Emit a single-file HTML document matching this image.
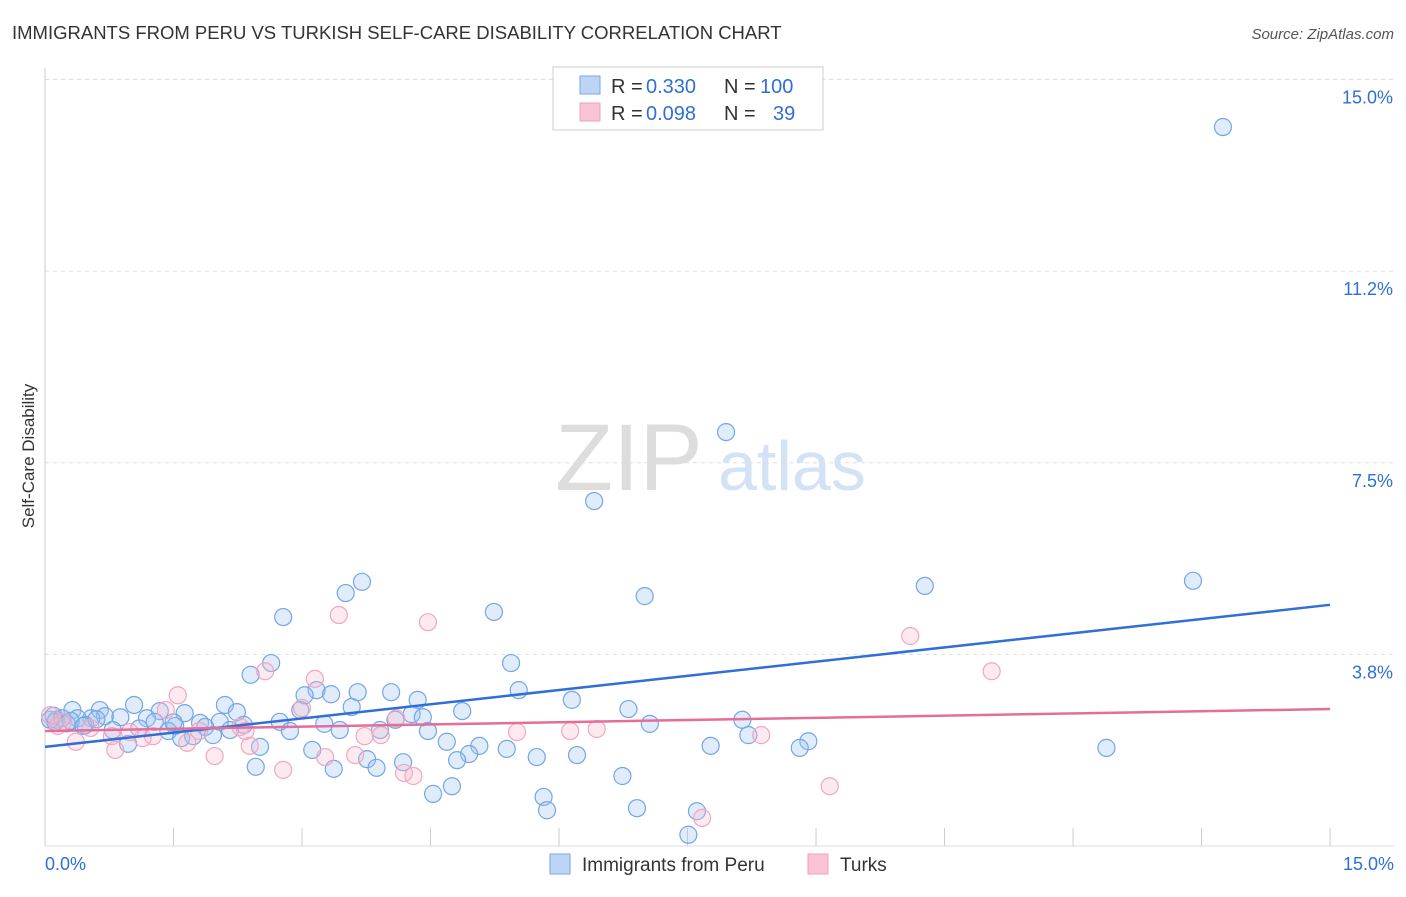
<!DOCTYPE html>
<html><head><meta charset="utf-8"><style>
body{margin:0;background:#fff;font-family:"Liberation Sans",sans-serif;}
svg text{font-family:"Liberation Sans",sans-serif;}
</style></head><body>
<svg id="chart" width="1406" height="892">
<text x="12" y="39" font-size="18.5" fill="#333">IMMIGRANTS FROM PERU VS TURKISH SELF-CARE DISABILITY CORRELATION CHART</text>
<text x="1394" y="39" font-size="15" fill="#555" font-style="italic" text-anchor="end">Source: ZipAtlas.com</text>
<text x="34" y="456" font-size="17" fill="#333" text-anchor="middle" transform="rotate(-90 34 456)">Self-Care Disability</text>
<text x="555" y="490" font-size="95" fill="#ddd" font-family="Liberation Serif">ZIP</text>
<text x="718" y="490" font-size="70" fill="#d4e2f6">atlas</text>
<g id="grid"></g><g id="pts"></g><g id="lines"></g>
<g>
<rect x="553" y="67" width="270" height="63" fill="#fff" stroke="#ccc"/>
<rect x="580" y="76" width="20" height="18" fill="#bcd4f6" stroke="#7ba6e6"/>
<rect x="580" y="103" width="20" height="18" fill="#f9c5d5" stroke="#f0a0ba"/>
<text x="611" y="93" font-size="20" fill="#333">R =</text>
<text x="646" y="93" font-size="20" fill="#2f6fd6">0.330</text>
<text x="724" y="93" font-size="20" fill="#333">N =</text>
<text x="760" y="93" font-size="20" fill="#2f6fd6">100</text>
<text x="611" y="120" font-size="20" fill="#333">R =</text>
<text x="646" y="120" font-size="20" fill="#2f6fd6">0.098</text>
<text x="724" y="120" font-size="20" fill="#333">N =</text>
<text x="773" y="120" font-size="20" fill="#2f6fd6">39</text>
</g>
<g>
<rect x="550" y="854" width="20" height="20" fill="#bcd4f6" stroke="#7ba6e6"/>
<text x="582" y="871" font-size="19" fill="#333">Immigrants from Peru</text>
<rect x="808" y="854" width="20" height="20" fill="#f9c5d5" stroke="#f0a0ba"/>
<text x="840" y="871" font-size="19" fill="#333">Turks</text>
</g>
</svg>
<script>
const yTicks=[15.0,11.25,7.5,3.75];
const yTickLabels=["15.0%","11.2%","7.5%","3.8%"];
const xTicks=[0,1.5,3,4.5,6,7.5,9,10.5,12,13.5,15];
const blueX=[13.75,7.95,6.41,13.40,10.27,7.00,3.70,3.51,5.24,2.78,2.64,5.44,2.40,5.53,3.17,3.03,3.34,3.65,4.04,4.35,6.15,1.04,2.10,3.58,2.98,1.63,2.24,4.87,6.81,0.32,0.64,1.34,0.70,0.88,1.19,4.28,4.41,0.54,0.38,0.13,0.06,1.28,2.04,2.74,4.09,8.14,1.81,2.32,3.26,7.06,0.47,1.52,1.87,0.79,1.44,2.16,2.86,3.44,3.91,4.47,8.21,1.96,1.59,1.73,8.91,4.69,7.77,8.81,12.39,0.97,2.51,3.12,5.07,5.39,4.95,6.21,5.74,3.76,4.81,4.18,2.46,3.37,3.87,6.74,4.75,4.53,5.82,5.86,6.91,7.61,7.51,0.12,0.2,0.25,0.1,0.3,0.45,0.6,1.1,1.5];
const blueY=[14.07,8.10,6.75,5.19,5.09,4.89,5.17,4.95,4.58,4.48,3.58,3.58,3.35,3.05,3.05,2.95,2.97,3.01,3.01,2.86,2.86,2.76,2.76,2.72,2.66,2.60,2.62,2.64,2.68,2.66,2.66,2.64,2.54,2.52,2.50,2.58,2.52,2.50,2.50,2.47,2.47,2.43,2.43,2.43,2.47,2.47,2.41,2.37,2.39,2.39,2.37,2.35,2.33,2.27,2.25,2.27,2.25,2.27,2.27,2.25,2.17,2.17,2.11,2.15,2.05,2.04,1.96,1.92,1.92,2.00,1.94,1.88,1.96,1.90,1.80,1.78,1.74,1.70,1.68,1.64,1.55,1.51,1.53,1.37,1.17,1.02,0.96,0.70,0.74,0.68,0.22,2.43,2.50,2.40,2.55,2.45,2.35,2.48,2.30,2.42];
const pinkX=[3.43,4.47,10.10,11.05,2.57,3.15,1.55,1.41,3.00,4.10,0.06,0.21,2.28,2.34,5.51,6.13,6.44,3.92,3.73,8.36,0.78,1.14,1.26,0.36,1.66,2.39,0.82,3.62,3.27,1.98,2.78,4.19,4.30,9.16,7.67,0.53,0.99,0.15,1.8];
const pinkY=[4.52,4.38,4.11,3.42,3.42,3.27,2.95,2.66,2.70,2.50,2.56,2.43,2.33,2.25,2.23,2.25,2.29,2.17,2.15,2.17,2.15,2.11,2.15,2.04,2.02,1.96,1.88,1.78,1.74,1.76,1.49,1.43,1.37,1.17,0.55,2.31,2.23,2.35,2.25];
const blueLine=[1.94,4.72];
const pinkLine=[2.25,2.68];
const X=v=>45+v*85.67, Y=v=>846-v*51.1;
const NS="http://www.w3.org/2000/svg";
function mk(t,a,p){const e=document.createElementNS(NS,t);for(const k in a)e.setAttribute(k,a[k]);p.appendChild(e);return e;}
const g=document.getElementById('grid');
yTicks.forEach((t,i)=>{
 const l=mk('line',{x1:45,x2:1394,y1:Y(t),y2:Y(t),stroke:'#ddd','stroke-dasharray':'4,4'},g);
 
 
 const tx=mk('text',{x:1393,y:Y(t)+24,'font-size':18,fill:'#2f6fd6','text-anchor':'end'},g);
 tx.textContent=yTickLabels[i];
 
 
});
const ax=mk('line',{x1:45,x2:45,y1:68,y2:846,stroke:'#ccc'},g);


const bx=mk('line',{x1:45,x2:1394,y1:846,y2:846,stroke:'#ddd'},g);


xTicks.forEach(t=>{
 const l=mk('line',{x1:X(t),x2:X(t),y1:828,y2:846,stroke:'#ccc'},g);
 
 
});
const x0=mk('text',{x:45,y:870,'font-size':18,fill:'#2f6fd6'},g);x0.textContent='0.0%';


const x1=mk('text',{x:1394,y:870,'font-size':18,fill:'#2f6fd6','text-anchor':'end'},g);x1.textContent='15.0%';


const p=document.getElementById('pts');
blueX.forEach((v,i)=>{
 const c=mk('circle',{cx:X(v),cy:Y(blueY[i]),r:8.5,fill:'rgba(160,195,240,0.32)',stroke:'#74a6e6','stroke-width':1.2},p);
 
 
});
pinkX.forEach((v,i)=>{
 const c=mk('circle',{cx:X(v),cy:Y(pinkY[i]),r:8.5,fill:'rgba(248,185,205,0.3)',stroke:'#f2a6bf','stroke-width':1.2},p);
 
 
});
const L=document.getElementById('lines');
const bl=mk('line',{x1:X(0),y1:Y(blueLine[0]),x2:X(15),y2:Y(blueLine[1]),stroke:'#2f6fd6','stroke-width':2.5},L);


const pl=mk('line',{x1:X(0),y1:Y(pinkLine[0]),x2:X(15),y2:Y(pinkLine[1]),stroke:'#e46d9a','stroke-width':2.5},L);


</script>
</body></html>
